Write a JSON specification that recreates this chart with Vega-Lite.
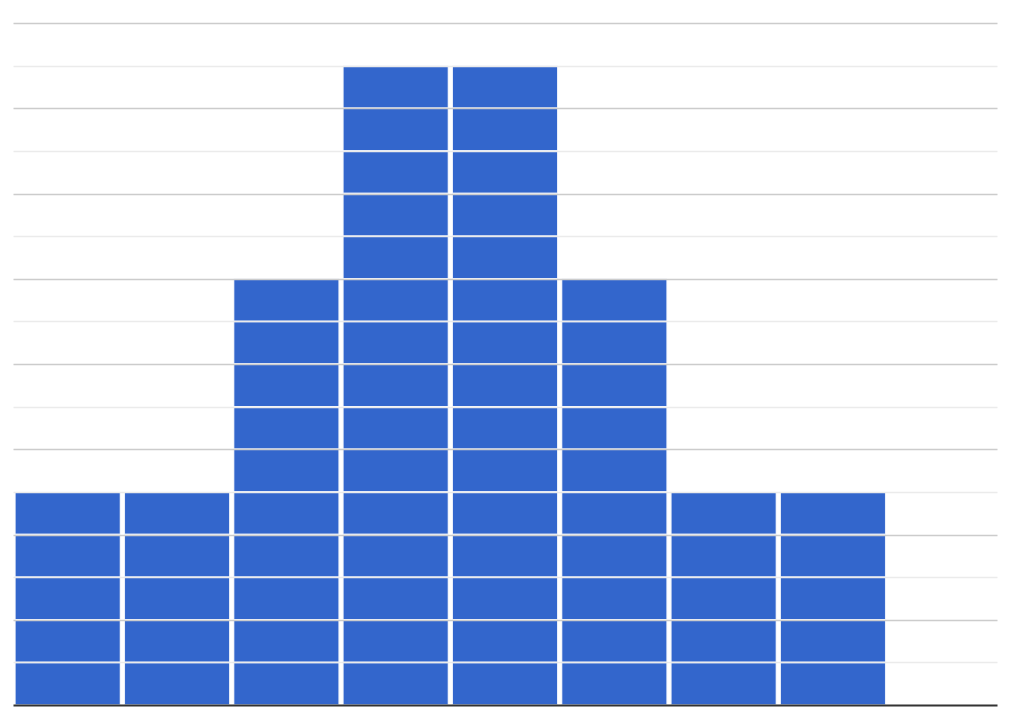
{
  "$schema": "https://vega.github.io/schema/vega-lite/v6.json",
  "width": 984,
  "height": 682,
  "autosize": {"type": "none"},
  "padding": {"left": 13, "top": 23, "right": 19, "bottom": 7},
  "background": "#ffffff",
  "config": {"view": {"stroke": null}},
  "data": {"values": [
    {"bin": 1, "n": 1}, {"bin": 1, "n": 2}, {"bin": 1, "n": 3}, {"bin": 1, "n": 4}, {"bin": 1, "n": 5},
    {"bin": 2, "n": 1}, {"bin": 2, "n": 2}, {"bin": 2, "n": 3}, {"bin": 2, "n": 4}, {"bin": 2, "n": 5},
    {"bin": 3, "n": 1}, {"bin": 3, "n": 2}, {"bin": 3, "n": 3}, {"bin": 3, "n": 4}, {"bin": 3, "n": 5},
    {"bin": 3, "n": 6}, {"bin": 3, "n": 7}, {"bin": 3, "n": 8}, {"bin": 3, "n": 9}, {"bin": 3, "n": 10},
    {"bin": 4, "n": 1}, {"bin": 4, "n": 2}, {"bin": 4, "n": 3}, {"bin": 4, "n": 4}, {"bin": 4, "n": 5},
    {"bin": 4, "n": 6}, {"bin": 4, "n": 7}, {"bin": 4, "n": 8}, {"bin": 4, "n": 9}, {"bin": 4, "n": 10},
    {"bin": 4, "n": 11}, {"bin": 4, "n": 12}, {"bin": 4, "n": 13}, {"bin": 4, "n": 14}, {"bin": 4, "n": 15},
    {"bin": 5, "n": 1}, {"bin": 5, "n": 2}, {"bin": 5, "n": 3}, {"bin": 5, "n": 4}, {"bin": 5, "n": 5},
    {"bin": 5, "n": 6}, {"bin": 5, "n": 7}, {"bin": 5, "n": 8}, {"bin": 5, "n": 9}, {"bin": 5, "n": 10},
    {"bin": 5, "n": 11}, {"bin": 5, "n": 12}, {"bin": 5, "n": 13}, {"bin": 5, "n": 14}, {"bin": 5, "n": 15},
    {"bin": 6, "n": 1}, {"bin": 6, "n": 2}, {"bin": 6, "n": 3}, {"bin": 6, "n": 4}, {"bin": 6, "n": 5},
    {"bin": 6, "n": 6}, {"bin": 6, "n": 7}, {"bin": 6, "n": 8}, {"bin": 6, "n": 9}, {"bin": 6, "n": 10},
    {"bin": 7, "n": 1}, {"bin": 7, "n": 2}, {"bin": 7, "n": 3}, {"bin": 7, "n": 4}, {"bin": 7, "n": 5},
    {"bin": 8, "n": 1}, {"bin": 8, "n": 2}, {"bin": 8, "n": 3}, {"bin": 8, "n": 4}, {"bin": 8, "n": 5}
  ]},
  "mark": {"type": "bar", "color": "#3366cc", "stroke": "#ffffff", "strokeWidth": 1.5, "strokeOpacity": 0.85},
  "encoding": {
    "x": {
      "field": "bin", "type": "ordinal",
      "scale": {"domain": [1, 2, 3, 4, 5, 6, 7, 8, 9], "paddingInner": 0.035, "paddingOuter": 0.018},
      "axis": {"title": null, "labels": false, "ticks": false, "grid": false, "domain": true, "domainColor": "#333333", "domainWidth": 2, "zindex": 2}
    },
    "y": {
      "aggregate": "count", "type": "quantitative", "stack": "zero",
      "scale": {"domain": [0, 16], "nice": false},
      "axis": {
        "title": null, "labels": false, "ticks": false, "domain": false,
        "values": [1, 2, 3, 4, 5, 6, 7, 8, 9, 10, 11, 12, 13, 14, 15, 16],
        "grid": true, "gridWidth": 1.5, "zindex": 1,
        "gridColor": {"condition": {"test": "datum.value % 2 === 0", "value": "#cccccc"}, "value": "#ebebeb"}
      }
    },
    "detail": {"field": "n", "type": "ordinal"}
  }
}
